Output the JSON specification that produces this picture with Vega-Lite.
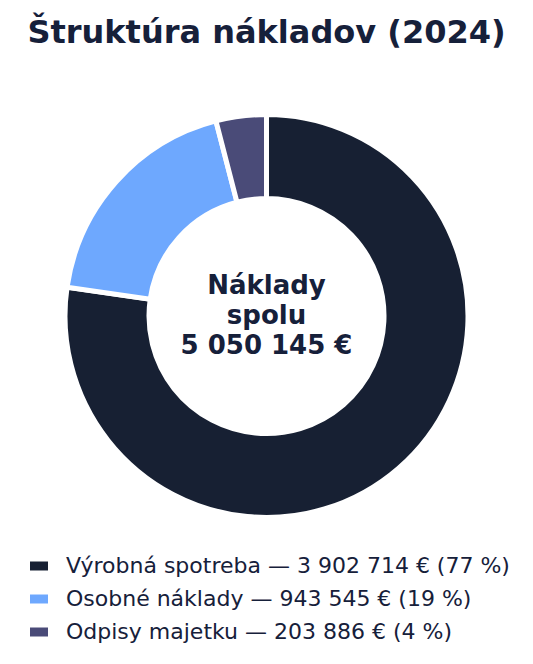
{
  "$schema": "https://vega.github.io/schema/vega-lite/v6.json",
  "autosize": "none",
  "width": 533,
  "height": 512,
  "padding": {"top": 60, "bottom": 92, "left": 0, "right": 0},
  "background": "white",
  "config": {"view": {"stroke": null}, "font": "DejaVu Sans"},
  "title": {
    "text": "Štruktúra nákladov (2024)",
    "font": "DejaVu Sans",
    "fontSize": 32,
    "fontWeight": "bold",
    "color": "#16203a",
    "anchor": "middle",
    "offset": 10
  },
  "data": {
    "values": [
      {"kategoria": "Výrobná spotreba — 3 902 714 € (77 %)", "hodnota": 3902714, "poradie": 1},
      {"kategoria": "Osobné náklady — 943 545 € (19 %)", "hodnota": 943545, "poradie": 2},
      {"kategoria": "Odpisy majetku — 203 886 € (4 %)", "hodnota": 203886, "poradie": 3}
    ]
  },
  "layer": [
    {
      "mark": {"type": "arc", "innerRadius": 117.5, "outerRadius": 201.5, "stroke": "white", "strokeWidth": 5},
      "encoding": {
        "theta": {"field": "hodnota", "type": "quantitative", "stack": true},
        "order": {"field": "poradie", "type": "quantitative"},
        "color": {
          "field": "kategoria",
          "type": "nominal",
          "sort": null,
          "scale": {
            "domain": [
              "Výrobná spotreba — 3 902 714 € (77 %)",
              "Osobné náklady — 943 545 € (19 %)",
              "Odpisy majetku — 203 886 € (4 %)"
            ],
            "range": ["#172033", "#6ea8fe", "#4a4b78"]
          },
          "legend": {
            "title": null,
            "orient": "none",
            "legendX": 28,
            "legendY": 495,
            "symbolType": "M-1,-0.5H1V0.5H-1Z",
            "symbolSize": 324,
            "symbolStrokeWidth": 0,
            "labelFont": "DejaVu Sans",
            "labelFontSize": 22,
            "labelColor": "#16203a",
            "labelOffset": 16,
            "labelLimit": 520,
            "rowPadding": 11
          }
        }
      }
    },
    {
      "data": {"values": [{"text": "Náklady\nspolu\n5 050 145 €"}]},
      "mark": {
        "type": "text",
        "lineBreak": "\n",
        "font": "DejaVu Sans",
        "fontSize": 26,
        "fontWeight": "bold",
        "color": "#16203a",
        "align": "center",
        "baseline": "middle",
        "lineHeight": 30,
        "dy": -30
      },
      "encoding": {"text": {"field": "text", "type": "nominal"}}
    }
  ]
}
